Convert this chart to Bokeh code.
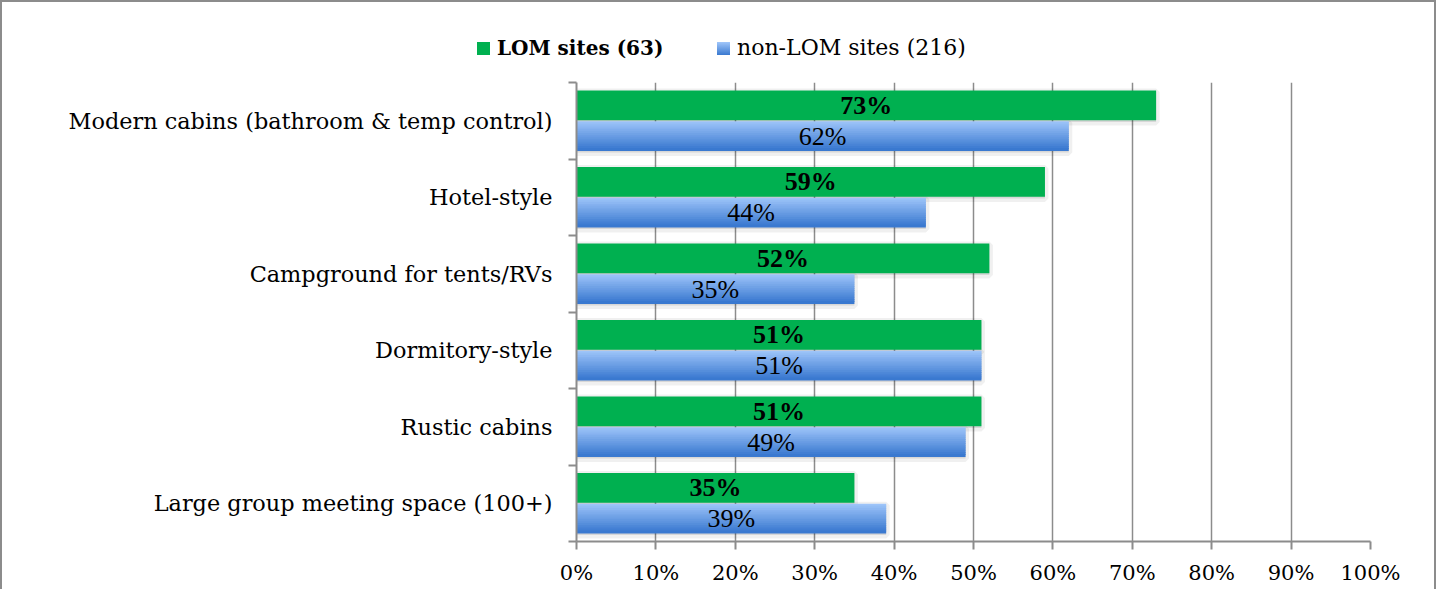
from bokeh.plotting import figure
from bokeh.layouts import column
from bokeh.models import (ColumnDataSource, LabelSet, Range1d, FixedTicker, Div)
from bokeh.transform import dodge
from bokeh.embed import file_html
from bokeh.resources import INLINE

# ---- data (top to bottom as shown) ----
categories = ["Modern cabins (bathroom & temp control)", "Hotel-style",
              "Campground for tents/RVs", "Dormitory-style", "Rustic cabins",
              "Large group meeting space (100+)"]
lom_values = [73, 59, 52, 51, 51, 35]
non_lom_values = [62, 44, 35, 51, 49, 39]
series_names = ["LOM sites (63)", "non-LOM sites (216)"]
x_ticks = [0, 10, 20, 30, 40, 50, 60, 70, 80, 90, 100]
x_tick_labels = ["0%", "10%", "20%", "30%", "40%", "50%", "60%", "70%", "80%", "90%", "100%"]

FONT = "DejaVu Serif"
GRAY = "#8c8c8c"
GREEN = "#00b050"
BLUE_TOP = (0xA0, 0xC6, 0xFA)
BLUE_BOT = (0x3A, 0x79, 0xD0)
W = 1432

n = len(categories)
cats = categories[::-1]
lom = lom_values[::-1]
non = non_lom_values[::-1]
centers = [i + 0.5 for i in range(n)]          # band centres of the categories
src = ColumnDataSource(dict(
    pos=centers, lom=lom, non=non,
    lom_mid=[v / 2 for v in lom], non_mid=[v / 2 for v in non],
    lom_txt=[f"{v}%" for v in lom], non_txt=[f"{v}%" for v in non],
))

# ---------------- legend row ----------------
top_hex = "#%02x%02x%02x" % BLUE_TOP
bot_hex = "#%02x%02x%02x" % BLUE_BOT
legend_html = f"""
<div style="position:relative;width:{W}px;height:76px;font-family:'{FONT}';color:#000;">
  <div style="position:absolute;left:475px;top:24px;height:44px;display:flex;align-items:center;white-space:nowrap;">
    <span style="display:inline-block;width:13px;height:13px;background:{GREEN};margin-right:7px;"></span>
    <span style="font-weight:bold;font-size:20px;">{series_names[0]}</span>
  </div>
  <div style="position:absolute;left:715px;top:24px;height:44px;display:flex;align-items:center;white-space:nowrap;">
    <span style="display:inline-block;width:13px;height:13px;background:linear-gradient({top_hex},{bot_hex});margin-right:7px;"></span>
    <span style="font-size:22px;">{series_names[1]}</span>
  </div>
</div>
"""
lg = Div(text=legend_html, width=W, height=76, margin=0)

# ---------------- chart ----------------
p = figure(width=W, height=511, y_range=Range1d(0, n), x_range=Range1d(0, 100),
           output_backend="svg", toolbar_location=None,
           min_border_left=574, min_border_right=64, min_border_top=4, min_border_bottom=48)
p.outline_line_color = None

# x axis
xa = p.xaxis[0]
xa.ticker = FixedTicker(ticks=x_ticks)
xa.major_label_overrides = {t: l for t, l in zip(x_ticks, x_tick_labels)}
xa.axis_line_color = GRAY
xa.axis_line_width = 2
xa.major_tick_line_color = GRAY
xa.major_tick_line_width = 2
xa.major_tick_out = 8
xa.major_tick_in = 0
xa.minor_tick_line_color = None
xa.major_label_text_font = FONT
xa.major_label_text_font_size = "21px"
xa.major_label_text_color = "#000000"
xa.major_label_standoff = 11
p.xgrid.grid_line_color = GRAY
p.xgrid.grid_line_width = 1.5
p.ygrid.grid_line_color = None

# y axis: category names at band centres, ticks at band boundaries
ya = p.yaxis[0]
ya.ticker = FixedTicker(ticks=centers, minor_ticks=list(range(n + 1)))
ya.major_label_overrides = {c: name for c, name in zip(centers, cats)}
ya.major_tick_line_color = None
ya.major_tick_out = 0
ya.major_tick_in = 0
ya.minor_tick_line_color = GRAY
ya.minor_tick_line_width = 2
ya.minor_tick_out = 8
ya.minor_tick_in = 0
ya.axis_line_color = GRAY
ya.axis_line_width = 2
ya.major_label_text_font = FONT
ya.major_label_text_font_size = "22.4px"
ya.major_label_text_color = "#000000"
ya.major_label_standoff = 16

H = 0.39
OFF = 0.2

# soft shadows
for off, fld in [(OFF, "lom"), (-OFF, "non")]:
    p.hbar(y=dodge("pos", off - 0.02), right=fld, left=0, height=H,
           source=src, fill_color="#000000", fill_alpha=0.10,
           line_color="#000000", line_alpha=0.06, line_width=7)

# green bars
p.hbar(y=dodge("pos", OFF), right="lom", left=0, height=H,
       source=src, fill_color=GREEN, line_color=None)

# blue gradient bars as overlapping strips
N = 16
for k in range(N):
    t = k / (N - 1)
    c = tuple(round(BLUE_TOP[i] + (BLUE_BOT[i] - BLUE_TOP[i]) * t) for i in range(3))
    col = "#%02x%02x%02x" % c
    hs = H / N
    yoff = -OFF + H / 2 - (k + 0.5) * hs
    if k == 0:
        p.hbar(y=dodge("pos", yoff), right="non", left=0, height=hs,
               source=src, fill_color=col, line_color=None)
    else:
        p.hbar(y=dodge("pos", yoff + hs * 0.3), right="non", left=0, height=hs * 1.6,
               source=src, fill_color=col, line_color=None)

# value labels
p.add_layout(LabelSet(x="lom_mid", y=dodge("pos", OFF), text="lom_txt",
                      source=src, text_align="center", text_baseline="middle",
                      text_font=FONT, text_font_size="26px", text_font_style="bold",
                      text_color="#000000"))
p.add_layout(LabelSet(x="non_mid", y=dodge("pos", -OFF), text="non_txt",
                      source=src, text_align="center", text_baseline="middle",
                      text_font=FONT, text_font_size="26px", text_color="#000000"))

layout = column(lg, p, spacing=0)
layout.styles = {"border-top": "2px solid #8c8c8c", "border-left": "2px solid #8c8c8c",
                 "border-right": "2px solid #8c8c8c"}

open("out.html", "w").write(file_html(layout, INLINE))
